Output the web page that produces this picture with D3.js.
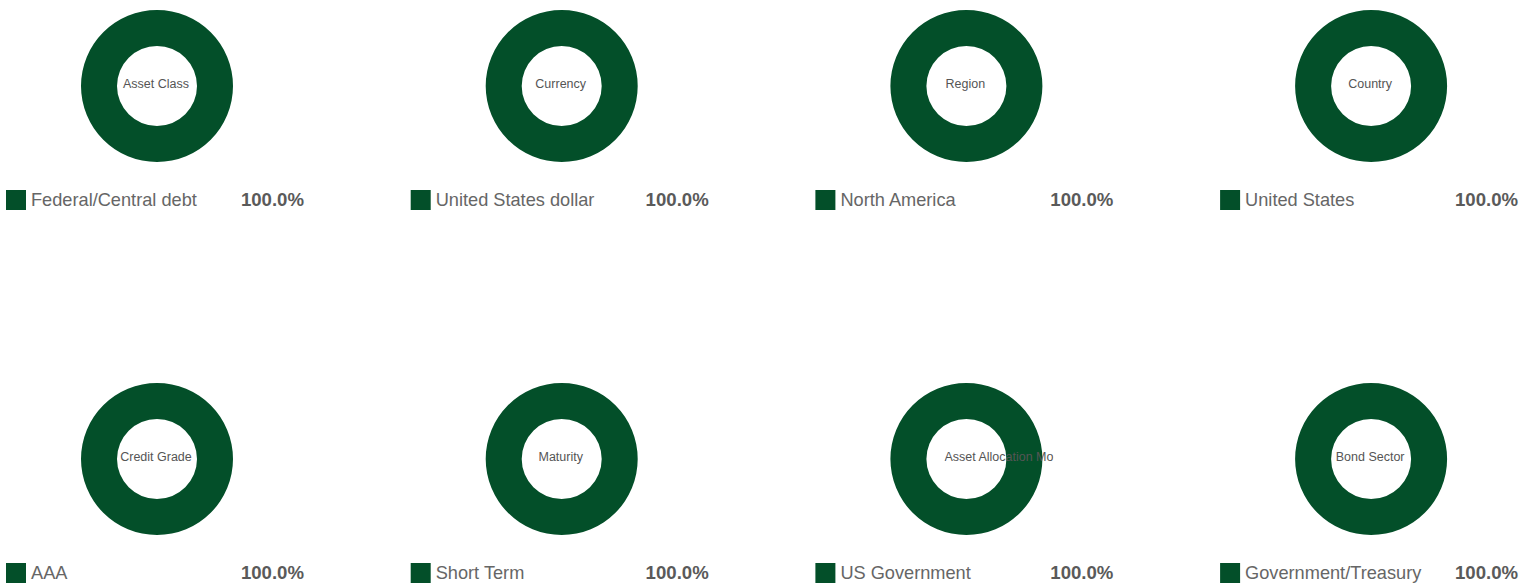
<!DOCTYPE html>
<html>
<head>
<meta charset="utf-8">
<script src="https://cdn.jsdelivr.net/npm/d3@7"></script>
<style>
  body { margin: 0; background: #fff; }
  svg { display: block; font-family: "Liberation Sans", Arial, sans-serif; }
</style>
</head>
<body>
<div id="draw_here"></div>
<script type="text/javascript">
    // Data
    titles = ["Asset Class", "Currency", "Region", "Country",
              "Credit Grade", "Maturity", "Asset Allocation Model", "Bond Sector"]
    labels = ["Federal/Central debt", "United States dollar", "North America", "United States",
              "AAA", "Short Term", "US Government", "Government/Treasury"]
    values = [100.0, 100.0, 100.0, 100.0, 100.0, 100.0, 100.0, 100.0]

    canvas = ({width: 1534, height: 584})
    green = "#034f29"

    colW = 404.7
    left0 = 6
    rowY = [86, 459]
    rOuter = 76
    rInner = 40

    var svg = d3.select("div#draw_here").append("svg")
        .attr("width", canvas.width)
        .attr("height", canvas.height)

    pie = d3.pie().sort(null).value(d => d)
    arc = d3.arc().innerRadius(rInner).outerRadius(rOuter)

    titles.forEach(function(t, i) {
        col = i % 4
        row = Math.floor(i / 4)
        x0 = left0 + col * colW
        cx = x0 + 151
        cy = rowY[row]

        g = svg.append("g").attr("transform", `translate(${cx},${cy})`)

        g.selectAll("path")
            .data(pie([values[i]]))
            .join("path")
            .attr("fill", green)
            .attr("d", arc)

        // centre label, long ones overflow and get clipped like the original
        label = g.append("text")
            .attr("y", 1.5)
            .attr("font-size", 12.5)
            .attr("fill", "#555")
            .text(t)
        w = label.node().getComputedTextLength()
        if (w > 2 * rInner + 10) {
            svg.append("clipPath").attr("id", "clip_" + i)
                .append("rect").attr("x", -22).attr("y", -20).attr("width", 109).attr("height", 40)
            label.attr("x", -22).attr("text-anchor", "start").attr("clip-path", `url(#clip_${i})`)
        } else {
            label.attr("x", -1).attr("text-anchor", "middle")
        }

        // legend
        ly = cy + 104
        svg.append("rect")
            .attr("x", x0).attr("y", ly)
            .attr("width", 20).attr("height", 20)
            .attr("fill", green)
        svg.append("text")
            .attr("x", x0 + 25).attr("y", ly + 16)
            .attr("font-size", 18.2)
            .attr("fill", "#666")
            .text(labels[i])
        svg.append("text")
            .attr("x", x0 + 298).attr("y", ly + 16)
            .attr("text-anchor", "end")
            .attr("font-size", 18.6)
            .attr("font-weight", "bold")
            .attr("fill", "#5a5a5a")
            .text(values[i].toFixed(1) + "%")
    })
</script>
</body>
</html>
